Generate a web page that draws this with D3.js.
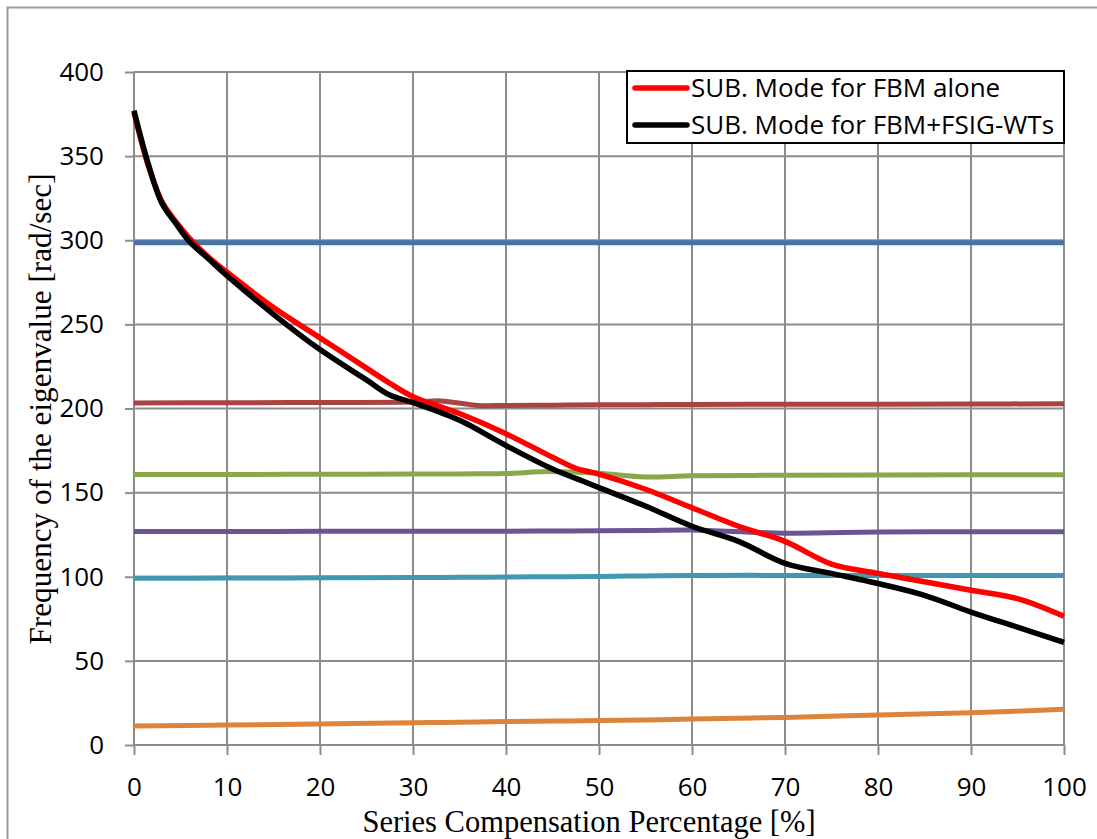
<!DOCTYPE html>
<html>
<head>
<meta charset="utf-8">
<script src="https://cdn.jsdelivr.net/npm/d3@7"></script>
<style>
  body { margin: 0; background: #fff; }
  .axisTitle { font-family: "Liberation Serif", "Times New Roman", serif; fill: #000; }
  .legendText { font-family: "Open Sans", sans-serif; font-size: 26px; fill: #000; }
</style>
</head>
<body>
<div id="chart"></div>
<script>

var width = 1097,
height = 839;

// x values (series compensation %) for the two sub-synchronous mode curves
var subX = [0, 1.5, 3, 4.5, 6, 8, 10, 15, 20, 25, 27.5, 30, 35, 40, 45, 47.5, 50, 55, 60, 65, 70, 75, 80, 85, 90, 95, 100];
var subFbm = [376, 345, 323, 311, 301, 290, 281, 260, 242, 224, 215, 207, 197, 185, 171, 164.5, 161, 152, 141, 130, 121, 107.5, 102, 97, 92, 87, 76.5];
var subFsig = [377, 346, 322, 310, 299, 289, 279, 256, 235, 217, 208, 203.5, 193, 178, 164, 158.5, 153, 142, 130, 121, 108, 102, 96, 89, 79, 70, 61];

// the other modes, nearly flat
var modeX = [0, 10, 20, 30, 33, 37, 40, 45, 50, 55, 60, 70, 80, 90, 100];
var modeBlue = [298.5, 298.5, 298.5, 298.5, 298.5, 298.5, 298.5, 298.5, 298.5, 298.5, 298.5, 298.5, 298.5, 298.5, 298.5];
var modeBrown = [203.3, 203.4, 203.6, 203.8, 204.5, 201.8, 201.8, 202.0, 202.2, 202.3, 202.4, 202.5, 202.6, 202.7, 202.8];
var modeGreen = [160.8, 160.8, 160.9, 161.0, 161.1, 161.2, 161.4, 162.5, 161.5, 159.3, 160.0, 160.3, 160.5, 160.6, 160.6];
var modePurple = [126.9, 126.9, 127.0, 127.0, 127.0, 127.0, 127.1, 127.2, 127.3, 127.5, 127.8, 125.9, 126.6, 126.8, 126.8];
var modeTeal = [99.1, 99.2, 99.4, 99.6, 99.6, 99.7, 99.8, 100.0, 100.2, 100.5, 100.8, 100.8, 100.8, 100.8, 100.8];
var modeOrange = [11.3, 11.9, 12.5, 13.2, 13.4, 13.7, 13.9, 14.2, 14.5, 14.9, 15.4, 16.4, 17.8, 19.2, 21.2];

var xTicks = [0, 10, 20, 30, 40, 50, 60, 70, 80, 90, 100];
var yTicks = [0, 50, 100, 150, 200, 250, 300, 350, 400];

var legendLabels = ["SUB. Mode for FBM alone", "SUB. Mode for FBM+FSIG-WTs"];

var margin = {left: 134, right: 1064, top: 72, bottom: 745};

var x = d3.scaleLinear().domain([0, 100]).range([margin.left, margin.right]);
var y = d3.scaleLinear().domain([0, 400]).range([margin.bottom, margin.top]);

var svg = d3.select("#chart")
.append("svg")
.attr("width", width)
.attr("height", height);

// outer frame
svg.append("rect")
.attr("x", 7.5)
.attr("y", 7.5)
.attr("width", 1200)
.attr("height", 1000)
.style("fill", "none")
.style("stroke", "#999")
.style("stroke-width", 2);

// grid
var grid = svg.append("g");
grid.selectAll("line.v")
.data(xTicks)
.enter().append("line")
.attr("class", "v")
.attr("x1", function(d) { return x(d); })
.attr("x2", function(d) { return x(d); })
.attr("y1", y(400))
.attr("y2", y(0))
.style("stroke", "#8c8c8c")
.style("stroke-width", 2);
grid.selectAll("line.h")
.data(yTicks)
.enter().append("line")
.attr("class", "h")
.attr("x1", x(0))
.attr("x2", x(100))
.attr("y1", function(d) { return y(d); })
.attr("y2", function(d) { return y(d); })
.style("stroke", "#8c8c8c")
.style("stroke-width", 2);

// axes
var xAxis = d3.axisBottom(x).tickValues(xTicks).tickSize(10).tickPadding(23);
var yAxis = d3.axisLeft(y).tickValues(yTicks).tickSize(9).tickPadding(21);

var gx = svg.append("g")
.attr("transform", "translate(0," + y(0) + ")")
.call(xAxis);
var gy = svg.append("g")
.attr("transform", "translate(" + x(0) + ",0)")
.call(yAxis);

[gx, gy].forEach(function(g) {
  g.select(".domain").remove();
  g.selectAll(".tick line").style("stroke", "#8c8c8c").style("stroke-width", 2);
  g.selectAll(".tick text")
  .style("font-family", "'Open Sans', sans-serif")
  .style("font-size", "26px")
  .style("fill", "#000");
});

// axis titles
svg.append("text")
.attr("class", "axisTitle")
.attr("x", 589)
.attr("y", 832)
.attr("text-anchor", "middle")
.style("font-size", "30.5px")
.text("Series Compensation Percentage [%]");

svg.append("text")
.attr("class", "axisTitle")
.attr("transform", "translate(51,409) rotate(-90)")
.attr("text-anchor", "middle")
.style("font-size", "31.2px")
.text("Frequency of the eigenvalue [rad/sec]");

// series
var line = d3.line()
.x(function(d) { return x(d[0]); })
.y(function(d) { return y(d[1]); })
.curve(d3.curveCatmullRom.alpha(0.5));

var flatSeries = [
  {vals: modeBlue, color: "#4673aa"},
  {vals: modeBrown, color: "#aa4442"},
  {vals: modeGreen, color: "#89a84b"},
  {vals: modePurple, color: "#6c5592"},
  {vals: modeTeal, color: "#4198b0"},
  {vals: modeOrange, color: "#de843a"}
];

var plot = svg.append("g");

plot.selectAll("path.mode")
.data(flatSeries)
.enter().append("path")
.attr("class", "mode")
.attr("d", function(s) { return line(modeX.map(function(v, i) { return [v, s.vals[i]]; })); })
.style("fill", "none")
.style("stroke", function(s) { return s.color; })
.style("stroke-width", 5);

var subSeries = [
  {vals: subFbm, color: "#ff0000"},
  {vals: subFsig, color: "#000000"}
];

plot.selectAll("path.sub")
.data(subSeries)
.enter().append("path")
.attr("class", "sub")
.attr("d", function(s) { return line(subX.map(function(v, i) { return [v, s.vals[i]]; })); })
.style("fill", "none")
.style("stroke", function(s) { return s.color; })
.style("stroke-width", 5.5)
.style("stroke-linejoin", "round");

// legend
var legend = svg.append("g");
legend.append("rect")
.attr("x", 627)
.attr("y", 71)
.attr("width", 437)
.attr("height", 72)
.style("fill", "#fff")
.style("stroke", "#000")
.style("stroke-width", 2);

var items = legend.selectAll("g.item")
.data(subSeries)
.enter().append("g")
.attr("class", "item")
.attr("transform", function(d, i) { return "translate(0," + (88 + i * 37) + ")"; });

items.append("line")
.attr("x1", 635)
.attr("x2", 687)
.attr("y1", 0)
.attr("y2", 0)
.style("stroke", function(d) { return d.color; })
.style("stroke-width", 5.5)
.style("stroke-linecap", "round");

items.append("text")
.attr("class", "legendText")
.attr("x", 691)
.attr("y", 9)
.text(function(d, i) { return legendLabels[i]; });

</script>
</body>
</html>
